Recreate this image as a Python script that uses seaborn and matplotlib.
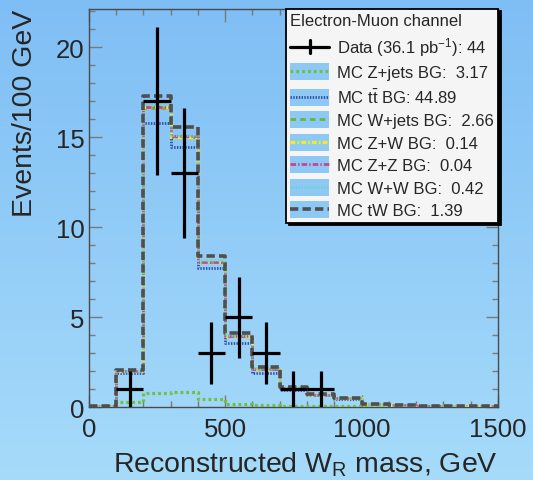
import numpy as np
import pandas as pd
import matplotlib
matplotlib.use("Agg")
import matplotlib.pyplot as plt
from matplotlib.patches import Rectangle
from matplotlib.lines import Line2D
from matplotlib.legend_handler import HandlerLine2D, HandlerBase
from matplotlib.ticker import MultipleLocator
import seaborn as sns

# ---- data -------------------------------------------------------------
bin_edges = np.arange(0, 1600, 100)  # 15 bins of 100 GeV, 0..1500

zjets = [0.05, 0.30, 0.80, 0.85, 0.45, 0.20, 0.12, 0.06, 0.06, 0.05, 0.05, 0.05, 0.05, 0.04, 0.04]
ttbar = [0.00, 1.60, 15.00, 13.60, 7.30, 3.35, 1.80, 0.92, 0.60, 0.42, 0.14, 0.07, 0.04, 0.03, 0.02]
wjets = [0.00, 0.10, 0.85, 0.55, 0.30, 0.40, 0.20, 0.10, 0.05, 0.05, 0.02, 0.02, 0.01, 0.01, 0.00]
zw    = [0.00, 0.00, 0.04, 0.04, 0.02, 0.02, 0.01, 0.01, 0.00, 0.00, 0.00, 0.00, 0.00, 0.00, 0.00]
zz    = [0.00, 0.00, 0.01, 0.01, 0.01, 0.01, 0.00, 0.00, 0.00, 0.00, 0.00, 0.00, 0.00, 0.00, 0.00]
ww    = [0.00, 0.02, 0.12, 0.10, 0.08, 0.05, 0.03, 0.02, 0.00, 0.00, 0.00, 0.00, 0.00, 0.00, 0.00]
tw    = [0.00, 0.05, 0.45, 0.40, 0.25, 0.12, 0.06, 0.03, 0.02, 0.01, 0.00, 0.00, 0.00, 0.00, 0.00]

data_centers = [150, 250, 350, 450, 550, 650, 750, 850]
data_counts = [1, 17, 13, 3, 5, 3, 1, 1]

# ---- style ------------------------------------------------------------
sns.set_style("ticks")
plt.rcParams["font.family"] = ["Liberation Sans", "DejaVu Sans"]
plt.rcParams["mathtext.fontset"] = "custom"
plt.rcParams["mathtext.rm"] = "Liberation Sans"
plt.rcParams["mathtext.it"] = "Liberation Sans:italic"
plt.rcParams["mathtext.default"] = "regular"
plt.rcParams["lines.scale_dashes"] = False

# (name, values, color, linewidth, dash pattern)
layers = [
    ("MC Z+jets BG:  ", zjets, "#6cc23a", 2.3, (0, (2.0, 2.2))),
    ("MC t$\\bar{t}$ BG: ", ttbar, "#2f4ea6", 2.0, (0, (1.0, 1.0))),
    ("MC W+jets BG:  ", wjets, "#62b93a", 2.0, (0, (4.0, 3.0))),
    ("MC Z+W BG:  ", zw, "#f0ec28", 2.4, (0, (3.5, 1.5, 1.2, 1.5))),
    ("MC Z+Z BG:  ", zz, "#c8458f", 2.0, (0, (4.0, 1.5, 1.0, 1.5))),
    ("MC W+W BG:  ", ww, "#6fd0d0", 2.0, (0, (1.0, 1.0))),
    ("MC tW BG:  ", tw, "#4f4f4f", 2.6, (0, (6.0, 3.0))),
]

fig = plt.figure(figsize=(5.33, 4.81), dpi=100)

# vertical sky-blue gradient behind everything
bg = fig.add_axes([0, 0, 1, 1], zorder=-10)
top_c = np.array([127, 190, 245]) / 255
bot_c = np.array([166, 219, 250]) / 255
t = np.linspace(0, 1, 256)[:, None]
grad = (top_c[None, :] * (1 - t) + bot_c[None, :] * t)[:, None, :]
bg.imshow(grad, aspect="auto", extent=[0, 1, 0, 1], origin="upper")
bg.axis("off")

ax = fig.add_axes([0.1664, 0.1511, 0.7679, 0.8291])
ax.set_facecolor("none")

# stacked step outlines, one per cumulative layer
cum = np.zeros(len(bin_edges) - 1)
line_handles = []
for name, vals, color, lw, ls in layers:
    cum = cum + np.asarray(vals)
    step_df = pd.DataFrame({"mass": bin_edges, "events": np.append(cum, cum[-1])})
    sns.lineplot(data=step_df, x="mass", y="events", drawstyle="steps-post",
                 color=color, linewidth=lw, linestyle=ls, estimator=None,
                 sort=False, ax=ax, zorder=3)
    ln = ax.lines[-1]
    ln.set_label(f"{name}{np.sum(vals):.2f}")
    line_handles.append(ln)

# data with Poisson errors
data_err = np.sqrt(data_counts)
eb = ax.errorbar(data_centers, data_counts, yerr=data_err, xerr=50, fmt="none",
                 ecolor="black", elinewidth=2.3, capsize=0, zorder=5,
                 label=f"Data (36.1 pb$^{{-1}}$): {int(np.sum(data_counts))}")

ax.set_xlim(0, 1500)
ax.set_ylim(0, 22.15)
ax.xaxis.set_major_locator(MultipleLocator(500))
ax.xaxis.set_minor_locator(MultipleLocator(100))
ax.yaxis.set_major_locator(MultipleLocator(5))
ax.yaxis.set_minor_locator(MultipleLocator(1))
ax.tick_params(which="both", direction="in", top=True, right=True,
               color="#7a7a7a", width=1.0, labelsize=18.5)
ax.tick_params(which="major", length=9)
ax.tick_params(which="minor", length=4.5)
ax.tick_params(axis="x", pad=7)
ax.tick_params(axis="y", pad=3)
for sp in ax.spines.values():
    sp.set_color("#4a4a4a")
    sp.set_linewidth(1.0)

ax.set_xlabel("Reconstructed W$_\\mathrm{R}$ mass, GeV", fontsize=20.5,
              labelpad=6, loc="right")
ax.set_ylabel("Events/100 GeV", fontsize=20.5, labelpad=13, loc="top")


class BoxedLine(HandlerLine2D):
    """Legend line drawn over a light blue box."""
    def create_artists(self, legend, orig_handle, xdescent, ydescent,
                       width, height, fontsize, trans):
        box = Rectangle((-xdescent, -ydescent - 1.5), width, height + 3,
                        facecolor="#8ec9f5", edgecolor="none", transform=trans)
        arts = super().create_artists(legend, orig_handle, xdescent, ydescent,
                                      width, height, fontsize, trans)
        return [box] + list(arts)


class CrossHandle(HandlerBase):
    """Full-width horizontal bar with a short vertical error bar."""
    def create_artists(self, legend, orig_handle, xdescent, ydescent,
                       width, height, fontsize, trans):
        x0, x1 = -xdescent, -xdescent + width
        ym = -ydescent + height / 2
        xm = (x0 + x1) / 2
        h = Line2D([x0, x1], [ym, ym], color="black", linewidth=2.3, transform=trans)
        v = Line2D([xm, xm], [ym - 0.5 * height, ym + 0.5 * height],
                   color="black", linewidth=2.3, transform=trans)
        return [h, v]


handles = [eb] + line_handles
labels = [h.get_label() for h in handles]
hmap = {l: BoxedLine() for l in line_handles}
hmap[eb] = CrossHandle()
leg = ax.legend(handles, labels, loc="upper right", bbox_to_anchor=(1.0, 1.0),
                borderaxespad=0.0, fontsize=12, title="Electron-Muon channel",
                title_fontsize=12, alignment="left", frameon=True, fancybox=False,
                framealpha=1.0, facecolor="#f5f5f5", edgecolor="black",
                handlelength=2.3, handleheight=0.8, handletextpad=0.5,
                labelspacing=0.44, borderpad=0.25,
                shadow={"color": "black", "alpha": 1.0},
                handler_map=hmap)
leg.get_frame().set_linewidth(1.3)
leg.set_zorder(10)

fig.savefig("out.png", dpi=100)
